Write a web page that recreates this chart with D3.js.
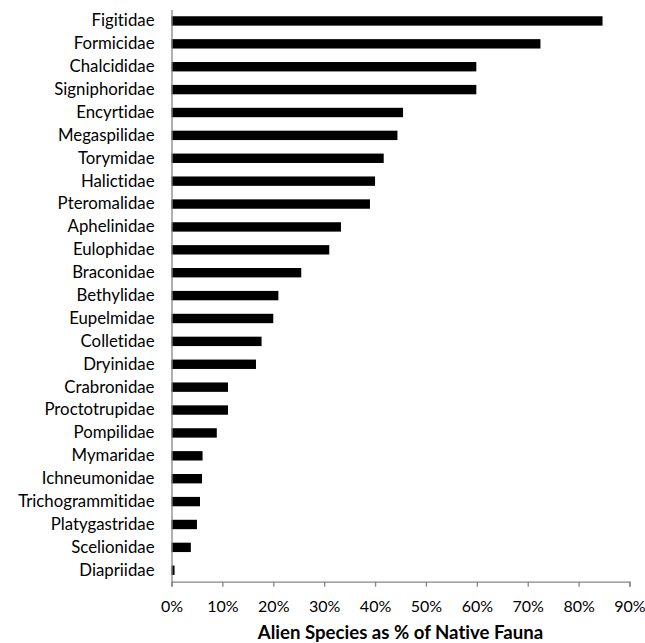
<!DOCTYPE html>
<html>
<head>
<meta charset="utf-8">
<script src="https://cdn.jsdelivr.net/npm/d3@7"></script>
<style>
  body { margin: 0; background: #fff; }
  svg { display: block; }
  text { font-variant-ligatures: none; }
</style>
</head>
<body>
<svg id="chart"></svg>
<script>
// Alien species as % of native fauna, by Hymenoptera family (top to bottom)
const families = [
  "Figitidae", "Formicidae", "Chalcididae", "Signiphoridae", "Encyrtidae",
  "Megaspilidae", "Torymidae", "Halictidae", "Pteromalidae", "Aphelinidae",
  "Eulophidae", "Braconidae", "Bethylidae", "Eupelmidae", "Colletidae",
  "Dryinidae", "Crabronidae", "Proctotrupidae", "Pompilidae", "Mymaridae",
  "Ichneumonidae", "Trichogrammitidae", "Platygastridae", "Scelionidae", "Diapriidae",
];
const pct = [
  84.7, 72.5, 59.9, 59.9, 45.5,
  44.4, 41.7, 40.0, 39.0, 33.3,
  31.0, 25.5, 21.0, 20.0, 17.7,
  16.6, 11.1, 11.1, 8.9, 6.1,
  6.0, 5.6, 5.0, 3.8, 0.6,
];
const xTicks = [0, 10, 20, 30, 40, 50, 60, 70, 80, 90];
const xTitle = "Alien Species as % of Native Fauna";

const W = 645, H = 643;
const m = { top: 9.5, right: 15.5, bottom: 61.3, left: 171.5 };
const FONT = "Lato, 'Open Sans', sans-serif";
const AXIS = "#868686";

const svg = d3.select("#chart").attr("width", W).attr("height", H);

const x = d3.scaleLinear().domain([0, 90]).range([m.left, W - m.right]);
const y = d3.scaleBand().domain(families).range([m.top, H - m.bottom])
  .paddingInner(0.59).paddingOuter(0.295);

// bars
svg.append("g").selectAll("rect").data(families).join("rect")
  .attr("x", x(0))
  .attr("y", (d) => y(d))
  .attr("width", (d, i) => x(pct[i]) - x(0))
  .attr("height", y.bandwidth())
  .attr("fill", "#000");

// x axis
const gx = svg.append("g").attr("transform", `translate(0,${H - m.bottom})`)
  .call(d3.axisBottom(x).tickValues(xTicks).tickFormat((d) => d + "%").tickSize(5).tickPadding(14));
gx.select(".domain").attr("stroke", AXIS).attr("stroke-width", 1.3);
gx.selectAll(".tick line").attr("stroke", AXIS).attr("stroke-width", 1.3);
gx.selectAll(".tick text").attr("font-family", FONT).attr("font-size", 16).attr("fill", "#000");

// y axis: line only, labels right-aligned
const gy = svg.append("g").attr("transform", `translate(${m.left},0)`)
  .call(d3.axisLeft(y).tickSize(0).tickPadding(17));
gy.select(".domain").attr("stroke", AXIS).attr("stroke-width", 1.3);
gy.selectAll(".tick text").attr("font-family", FONT).attr("font-size", 16.8).attr("fill", "#000");

// axis title
svg.append("text")
  .attr("x", (x(0) + x(90)) / 2)
  .attr("y", 639)
  .attr("text-anchor", "middle")
  .attr("font-family", FONT)
  .attr("font-size", 18.6)
  .attr("font-weight", "bold")
  .attr("fill", "#000")
  .text(xTitle);
</script>
</body>
</html>
